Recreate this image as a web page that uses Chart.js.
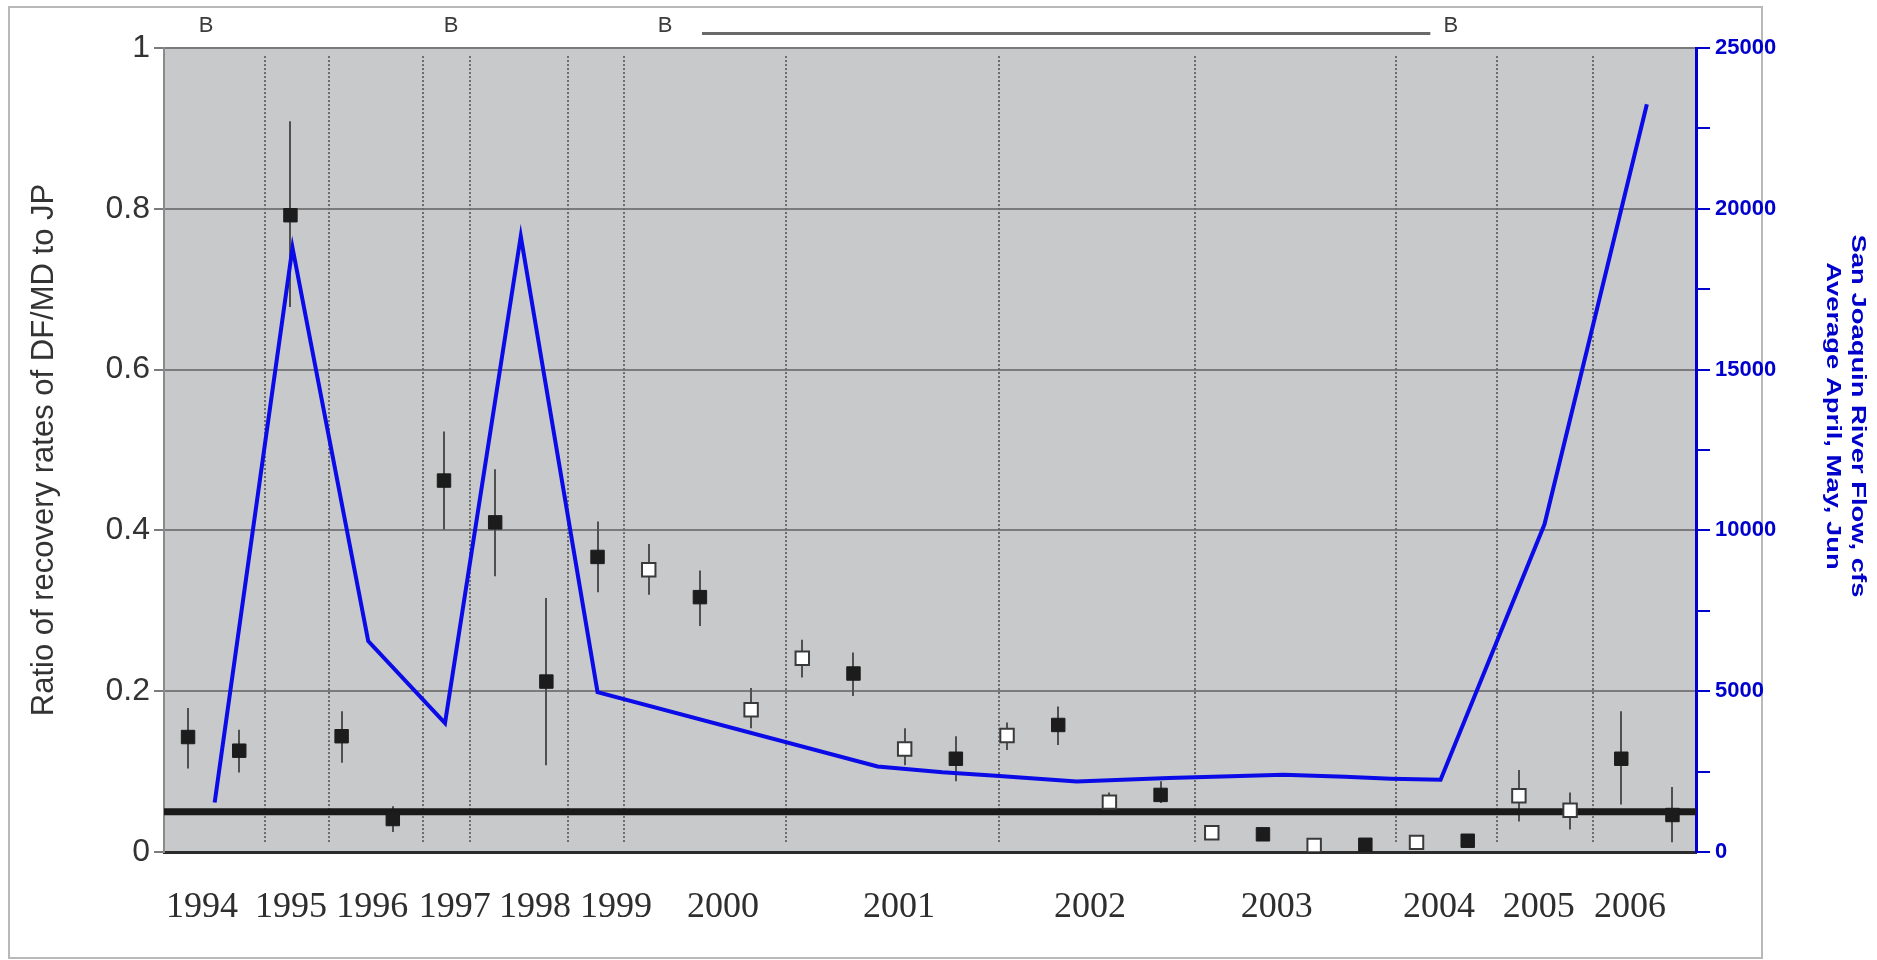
<!DOCTYPE html>
<html>
<head>
<meta charset="utf-8">
<title>Ratio of recovery rates of DF/MD to JP and San Joaquin River flow</title>
<script src="https://cdn.jsdelivr.net/npm/chart.js@4.4.1/dist/chart.umd.min.js"></script>
<style>
  html, body { margin: 0; padding: 0; background: #fff; }
  #wrap { width: 1877px; height: 960px; position: relative; }
</style>
</head>
<body>
<div id="wrap"><canvas id="myChart"></canvas></div>
<script>
// Releases, one every step along x (0..29)
const ratio     = [0.143, 0.126, 0.792, 0.144, 0.041, 0.462, 0.410, 0.212, 0.367, 0.351,
                   0.317, 0.177, 0.241, 0.222, 0.128, 0.116, 0.145, 0.158, 0.062, 0.071,
                   0.024, 0.022, 0.008, 0.009, 0.012, 0.014, 0.070, 0.052, 0.116, 0.046];
const ratioLow  = [0.104, 0.099, 0.678, 0.111, 0.025, 0.401, 0.343, 0.108, 0.323, 0.320,
                   0.281, 0.154, 0.217, 0.194, 0.108, 0.088, 0.127, 0.133, 0.049, 0.061,
                   0.024, 0.022, 0.008, 0.009, 0.012, 0.014, 0.038, 0.028, 0.059, 0.012];
const ratioHigh = [0.179, 0.152, 0.909, 0.175, 0.057, 0.523, 0.476, 0.316, 0.411, 0.383,
                   0.350, 0.204, 0.264, 0.248, 0.154, 0.144, 0.161, 0.181, 0.074, 0.088,
                   0.024, 0.022, 0.008, 0.009, 0.012, 0.014, 0.102, 0.074, 0.175, 0.081];
// 1 = black marker, 0 = white marker
const filled    = [1, 1, 1, 1, 1, 1, 1, 1, 1, 0,
                   1, 0, 0, 1, 0, 1, 0, 1, 0, 1,
                   0, 1, 0, 1, 0, 1, 0, 0, 1, 1];

// Average April-June San Joaquin River flow (cfs)
const flowPos = [0.52, 2.04, 3.52, 5.02, 6.5, 8.0, 13.47, 14.74, 15.78, 17.36, 19.16, 20.2, 21.4, 22.6, 23.5, 24.47, 26.5, 28.5];
const flowCfs = [1540, 18790, 6560, 4010, 19150, 4970, 2660, 2480, 2370, 2190, 2300, 2350, 2400, 2340, 2280, 2245, 10190, 23250];

// Year labels under the plot
const yearLabels = ['1994', '1995', '1996', '1997', '1998', '1999', '2000', '2001', '2002', '2003', '2004', '2005', '2006'];
const yearPos    = [0.27, 2.01, 3.6, 5.21, 6.78, 8.36, 10.45, 13.89, 17.62, 21.27, 24.44, 26.39, 28.17];

// Dotted year separators
const separatorPos = [1.51, 2.745, 4.59, 5.51, 7.43, 8.51, 11.69, 15.84, 19.68, 23.59, 25.57, 27.44];

// "B" marks above the plot and the bar between two of them
const bPos = [0.35, 5.14, 9.32, 24.67];
const bLine = [10.04, 24.27];

const refLevel = 0.05;
const xMin = -0.47, xMax = 29.46;

const rightTitle = ['San Joaquin River Flow, cfs', 'Average April, May, Jun'];

Chart.defaults.font.family = 'Arial, "Liberation Sans", sans-serif';

const extras = {
    id: 'extras',
    beforeDraw(chart) {
        const { ctx, chartArea: a } = chart;
        ctx.save();
        ctx.strokeStyle = '#b9b9b9';
        ctx.lineWidth = 2;
        ctx.strokeRect(9, 7, 1753, 951);
        ctx.fillStyle = '#c8c9cb';
        ctx.fillRect(a.left, a.top, a.right - a.left, a.bottom - a.top);
        ctx.restore();
    },
    beforeDatasetsDraw(chart) {
        const { ctx } = chart;
        const x = chart.scales.x, y = chart.scales.y;
        ctx.save();
        // year separators
        ctx.strokeStyle = '#6c6c6c';
        ctx.lineWidth = 2;
        ctx.setLineDash([2, 2]);
        separatorPos.forEach(p => {
            const px = Math.round(x.getPixelForValue(p));
            ctx.beginPath();
            ctx.moveTo(px, y.getPixelForValue(0.99));
            ctx.lineTo(px, y.getPixelForValue(0.012));
            ctx.stroke();
        });
        ctx.setLineDash([]);
        // error bars
        ctx.strokeStyle = '#505050';
        ctx.lineWidth = 2;
        ratio.forEach((v, i) => {
            const px = Math.round(x.getPixelForValue(i));
            ctx.beginPath();
            ctx.moveTo(px, y.getPixelForValue(ratioHigh[i]));
            ctx.lineTo(px, y.getPixelForValue(ratioLow[i]));
            ctx.stroke();
        });
        ctx.restore();
    },
    afterDraw(chart) {
        const { ctx } = chart;
        const x = chart.scales.x, y = chart.scales.y;
        ctx.save();
        ctx.fillStyle = '#3c3c3c';
        ctx.font = '22px Arial, "Liberation Sans", sans-serif';
        ctx.textAlign = 'center';
        ctx.textBaseline = 'middle';
        bPos.forEach(p => ctx.fillText('B', x.getPixelForValue(p), y.getPixelForValue(1.028)));
        ctx.strokeStyle = '#6a6a6a';
        ctx.lineWidth = 3;
        ctx.beginPath();
        ctx.moveTo(x.getPixelForValue(bLine[0]), y.getPixelForValue(1.018));
        ctx.lineTo(x.getPixelForValue(bLine[1]), y.getPixelForValue(1.018));
        ctx.stroke();

        // right axis title, set outside the frame, narrow and tall like the original
        ctx.fillStyle = '#0000cc';
        ctx.font = 'bold 20px Arial, "Liberation Sans", sans-serif';
        rightTitle.forEach((line, i) => {
            ctx.save();
            ctx.translate(1858 - i * 25, 416);
            ctx.rotate(Math.PI / 2);
            ctx.scale(1.37, 1);
            ctx.fillText(line, 0, 0);
            ctx.restore();
        });
        ctx.restore();
    }
};

const ctx = document.getElementById('myChart').getContext('2d');
const myChart = new Chart(ctx, {
    type: 'scatter',
    data: {
        datasets: [
            {
                type: 'line',
                label: 'Flow',
                data: flowPos.map((p, i) => ({ x: p, y: flowCfs[i] })),
                borderColor: '#0b0be8',
                borderWidth: 4,
                pointRadius: 0,
                tension: 0,
                fill: false,
                yAxisID: 'y2',
                order: 0
            },
            {
                label: 'Ratio',
                data: ratio.map((v, i) => ({ x: i, y: v })),
                pointStyle: 'rect',
                pointRadius: 9.5,
                pointHoverRadius: 9.5,
                pointBackgroundColor: filled.map(f => f ? '#1c1c1c' : '#ffffff'),
                pointBorderColor: filled.map(f => f ? '#1c1c1c' : '#3a3a3a'),
                pointBorderWidth: filled.map(f => f ? 1 : 2),
                yAxisID: 'y',
                order: 1
            },
            {
                type: 'line',
                label: 'Reference',
                data: [{ x: xMin, y: refLevel }, { x: xMax, y: refLevel }],
                borderColor: '#1a1a1a',
                borderWidth: 7,
                pointRadius: 0,
                fill: false,
                yAxisID: 'y',
                order: 2
            }
        ]
    },
    options: {
        responsive: true,
        maintainAspectRatio: false,
        devicePixelRatio: 1,
        animation: false,
        layout: { padding: { top: 48, left: 0, right: 0, bottom: 0 } },
        plugins: { legend: { display: false }, tooltip: { enabled: false } },
        scales: {
            x: {
                type: 'linear',
                position: 'bottom',
                min: xMin,
                max: xMax,
                afterBuildTicks: s => { s.ticks = yearPos.map(v => ({ value: v })); },
                afterFit: s => { s.height = 108; },
                ticks: {
                    autoSkip: false,
                    maxRotation: 0,
                    minRotation: 0,
                    padding: 34,
                    color: '#2e2e2e',
                    font: { family: '"Times New Roman", "Liberation Serif", serif', size: 36 },
                    callback: (v, i) => yearLabels[i]
                },
                grid: { drawOnChartArea: false, drawTicks: false },
                border: { display: true, color: '#2b2b2b', width: 3 }
            },
            y: {
                position: 'left',
                min: 0,
                max: 1,
                afterFit: s => { s.width = 164; },
                ticks: {
                    stepSize: 0.2,
                    color: '#333',
                    font: { family: '"Liberation Sans Narrow", "Arial Narrow", Arial, sans-serif', size: 32 },
                    padding: 4,
                    callback: v => String(Math.round(v * 10) / 10)
                },
                grid: { color: '#7b7b7b', lineWidth: 2, tickLength: 10, tickColor: '#7b7b7b' },
                border: { color: '#8a8a8a', width: 2 },
                title: {
                    display: true,
                    text: 'Ratio of recovery rates of DF/MD to JP',
                    color: '#333',
                    font: { size: 31 },
                    padding: { top: 26 }
                }
            },
            y2: {
                position: 'right',
                min: 0,
                max: 25000,
                afterFit: s => { s.width = 181; },
                ticks: {
                    stepSize: 2500,
                    color: '#0000cc',
                    font: { size: 22, weight: 'bold' },
                    padding: 5,
                    callback: v => v % 5000 === 0 ? String(v) : ''
                },
                grid: { drawOnChartArea: false, color: '#0000cc', tickLength: 14, lineWidth: 2 },
                border: { color: '#0000cc', width: 3 }
            }
        }
    },
    plugins: [extras]
});
</script>
</body>
</html>
